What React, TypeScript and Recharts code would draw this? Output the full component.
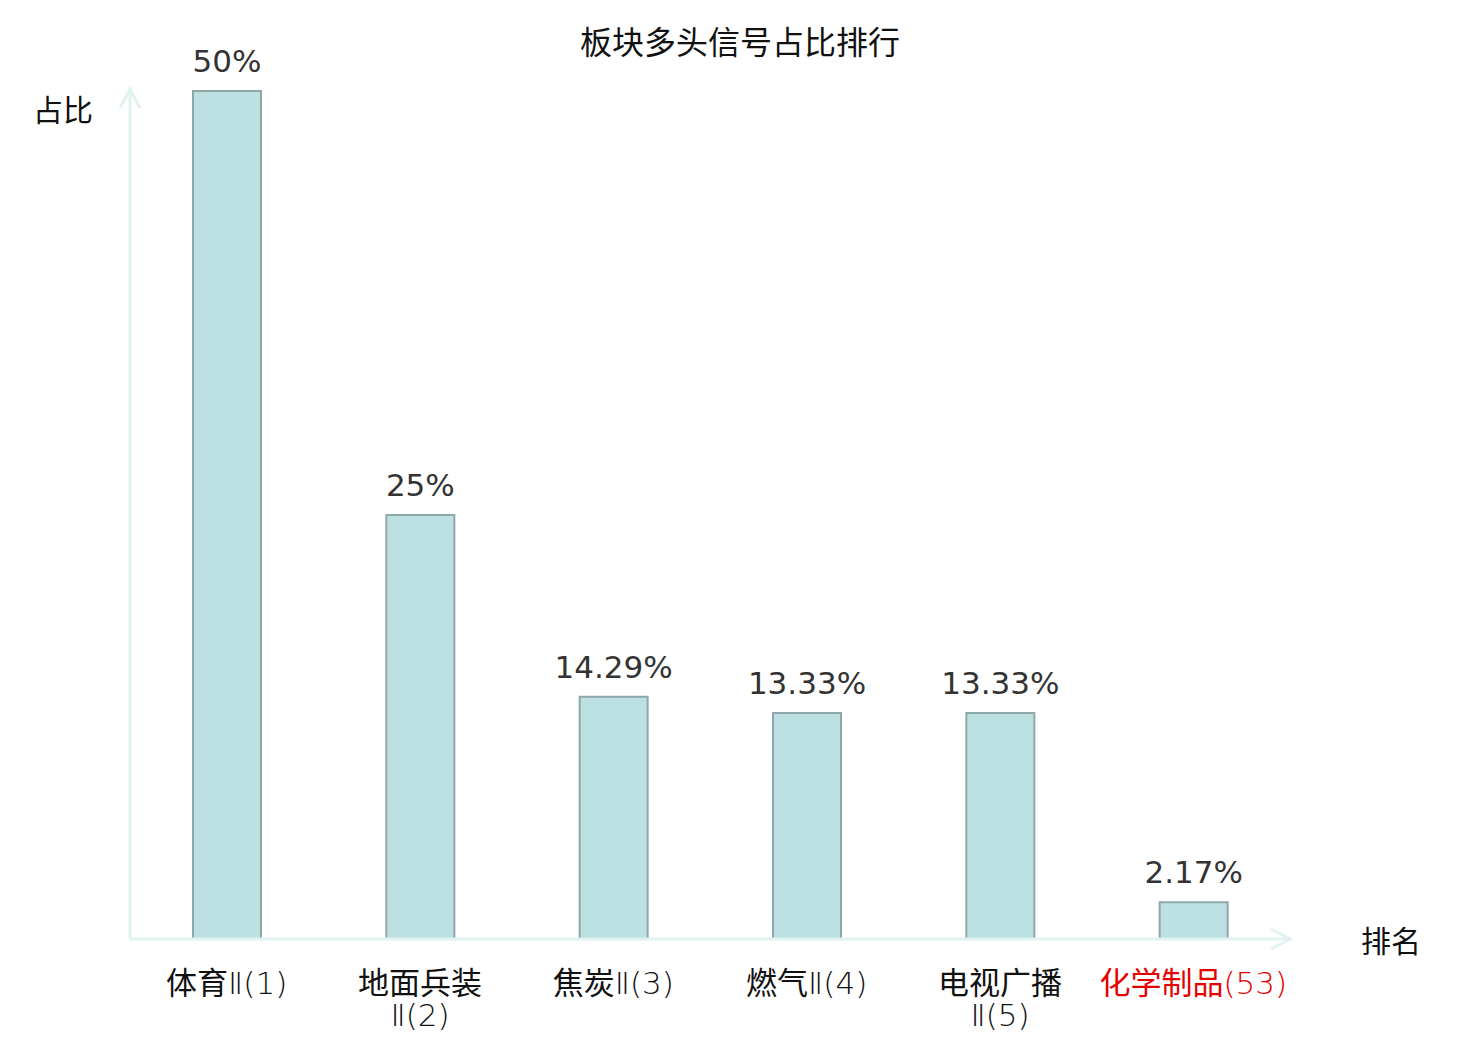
import { BarChart, Bar, XAxis, YAxis, LabelList } from 'recharts'

const categories = ['体育Ⅱ(1)', '地面兵装\nⅡ(2)', '焦炭Ⅱ(3)', '燃气Ⅱ(4)', '电视广播\nⅡ(5)', '化学制品(53)']
const ratios = [50, 25, 14.29, 13.33, 13.33, 2.17]
const ratioLabels = ['50%', '25%', '14.29%', '13.33%', '13.33%', '2.17%']
const highlight = '化学制品(53)'

const data = categories.map((name, i) => ({ name, value: ratios[i], label: ratioLabels[i] }))

const W = 1480
const H = 1040
const M = { top: 91, right: 190, bottom: 0, left: 130 }
const X_AXIS_H = 101
const AXIS_COLOR = '#e0f3f0'
const CJK = '"Noto Sans CJK SC", "DejaVu Sans", sans-serif'
const LATIN = '"DejaVu Sans", "Noto Sans CJK SC", sans-serif'

// CJK part in regular weight, the rest (Ⅱ, brackets, rank) thin like the original
function splitLine(line: string) {
  const m = line.match(/^([\u4e00-\u9fff]*)(.*)$/)
  return m ? [m[1], m[2]] : [line, '']
}

function CategoryTick(props: any) {
  const { x, y, payload } = props
  const lines = String(payload.value).split('\n')
  const fill = payload.value === highlight ? '#e60000' : '#111'
  return (
    <g>
      {lines.map((line, i) => {
        const [han, rest] = splitLine(line)
        return (
          <text key={i} x={x} y={y + 47 + i * 32} textAnchor="middle" fontSize={31} fill={fill}>
            {han && <tspan fontFamily={CJK}>{han}</tspan>}
            {rest && (
              <tspan fontFamily={LATIN} fontWeight={200}>
                {rest}
              </tspan>
            )}
          </text>
        )
      })}
    </g>
  )
}

export default function App() {
  const axisY = H - M.bottom - X_AXIS_H
  const axisRight = W - M.right
  return (
    <div style={{ position: 'absolute', left: 0, top: 0, width: W, height: H, background: '#fff' }}>
      <BarChart width={W} height={H} data={data} margin={M}>
        <text x={740} y={54} textAnchor="middle" fontFamily={CJK} fontSize={32} fill="#111">
          板块多头信号占比排行
        </text>
        <text x={63} y={121} textAnchor="middle" fontFamily={CJK} fontSize={30} fill="#111">
          占比
        </text>
        <text x={1391} y={952} textAnchor="middle" fontFamily={CJK} fontSize={30} fill="#111">
          排名
        </text>
        <XAxis
          dataKey="name"
          height={X_AXIS_H}
          axisLine={{ stroke: AXIS_COLOR, strokeWidth: 3 }}
          tickLine={false}
          tick={<CategoryTick />}
          interval={0}
        />
        <YAxis domain={[0, 50]} hide />
        <line x1={M.left} y1={axisY} x2={M.left} y2={M.top - 2} stroke={AXIS_COLOR} strokeWidth={3} />
        <polyline
          points={`${M.left - 10},${M.top + 17} ${M.left},${M.top - 2} ${M.left + 10},${M.top + 17}`}
          fill="none"
          stroke={AXIS_COLOR}
          strokeWidth={3}
        />
        <polyline
          points={`${axisRight - 19},${axisY - 10} ${axisRight},${axisY} ${axisRight - 19},${axisY + 10}`}
          fill="none"
          stroke={AXIS_COLOR}
          strokeWidth={3}
        />
        <Bar dataKey="value" barSize={68} fill="#bde0e3" stroke="#8ea7a9" strokeWidth={2} isAnimationActive={false}>
          <LabelList
            dataKey="label"
            position="top"
            offset={19}
            fontFamily={LATIN}
            fontSize={31}
            fill="#333"
          />
        </Bar>
      </BarChart>
    </div>
  )
}
